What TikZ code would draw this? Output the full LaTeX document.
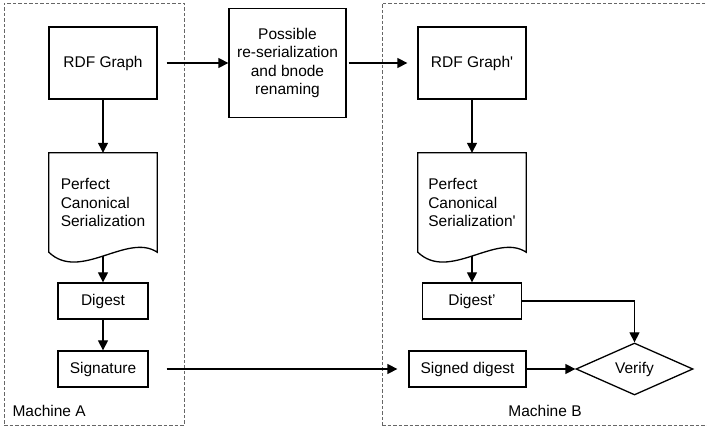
\documentclass[tikz,border=0pt]{standalone}
\usepackage{fontspec}
\setmainfont{Liberation Sans}
\usetikzlibrary{shapes,arrows.meta,calc}

\begin{document}
\begin{tikzpicture}[x=1pt,y=-1pt,
    txt/.style={font=\fontsize{15.5}{18.5}\selectfont},
    blk/.style={txt, draw, line width=1.3pt, inner sep=0pt},
    docblk/.style={txt, inner sep=0pt, minimum width=108pt, minimum height=99pt, align=left},
    machine/.style={draw=black!60, line width=0.8pt, dash pattern=on 3.5pt off 2pt, inner sep=0pt},
    flow/.style={line width=1.3pt, -{Triangle[length=10pt,width=10pt]}}]
    \useasboundingbox (0,0) rectangle (707,430);
    % the two machines
    \node[machine, minimum width=180pt, minimum height=422pt] (machA) at (94,214) {};
    \node[machine, minimum width=330pt, minimum height=422pt] (machB) at (547,214) {};
    \node[txt, anchor=west] (labA) at (9,411) {Machine A};
    \node[txt] (labB) at (545,411) {Machine B};
    % machine A
    \node[blk, minimum width=108pt, minimum height=72pt] (graphA) at (103,63) {RDF Graph};
    \node[docblk] (canonA) at (103,202.5) {Perfect\\Canonical\\Serialization};
    \draw[line width=1.3pt] (canonA.south west) -- (canonA.north west) -- (canonA.north east) -- (canonA.south east)
        .. controls ($(canonA.south east)+(-30,-20)$) and ($(canonA.south west)+(31,30)$) .. (canonA.south west) -- cycle;
    \node[blk, minimum width=90pt, minimum height=36pt] (digestA) at (103,301) {Digest};
    \node[blk, minimum width=90pt, minimum height=36pt] (signA) at (103,369) {Signature};
    % in between
    \node[blk, minimum width=117pt, minimum height=109pt, align=center] (possible) at (287.5,63)
        {Possible\\re-serialization\\and bnode\\renaming};
    % machine B
    \node[blk, minimum width=108pt, minimum height=72pt] (graphB) at (472,63) {RDF Graph\textquotesingle};
    \node[docblk] (canonB) at (472,202.5) {Perfect\\Canonical\\Serialization\textquotesingle};
    \draw[line width=1.3pt] (canonB.south west) -- (canonB.north west) -- (canonB.north east) -- (canonB.south east)
        .. controls ($(canonB.south east)+(-30,-20)$) and ($(canonB.south west)+(31,30)$) .. (canonB.south west) -- cycle;
    \node[blk, minimum width=99pt, minimum height=36pt] (digestB) at (472,301) {Digest'};
    \node[blk, minimum width=117pt, minimum height=36pt] (signedB) at (467.5,369) {Signed digest};
    \node[blk, diamond, aspect=2.25, minimum width=117pt, minimum height=52pt] (verify) at (634.5,369) {Verify};
    % connectors
    \draw[flow] (graphA.south) -- (canonA.north);
    \draw[flow, shorten <=4pt] (canonA.south) -- (digestA.north);
    \draw[flow] (digestA.south) -- (signA.north);
    \draw[flow, shorten <=9pt] (graphA.east) -- (possible.west);
    \draw[flow, shorten <=2pt, shorten >=10pt] (possible.east) -- (graphB.west);
    \draw[flow] (graphB.south) -- (canonB.north);
    \draw[flow, shorten <=4pt] (canonB.south) -- (digestB.north);
    \draw[flow, shorten <=18pt, shorten >=11pt] (signA.east) -- (signedB.west);
    \draw[flow] (signedB.east) -- (verify.west);
    \draw[flow] (digestB.east) -| (verify.north);
\end{tikzpicture}
\end{document}
